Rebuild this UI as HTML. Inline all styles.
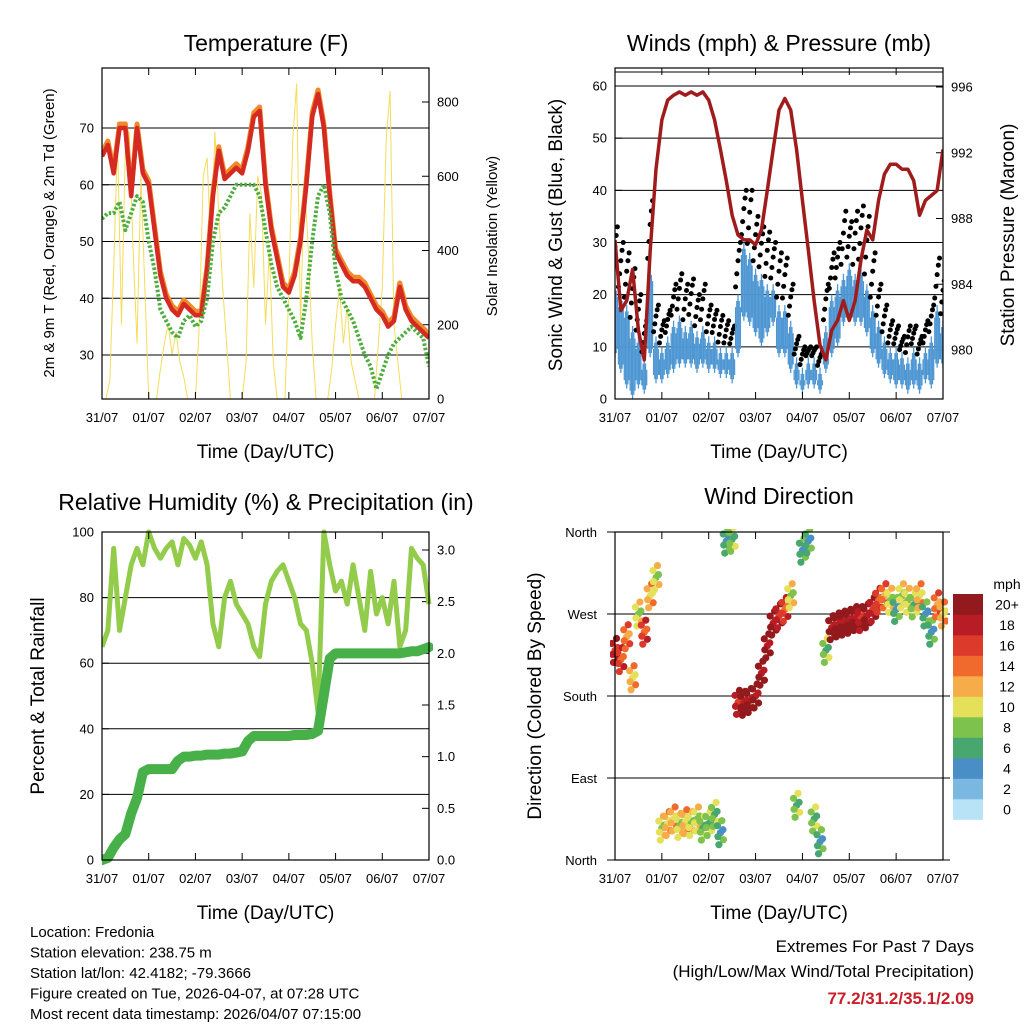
<!DOCTYPE html>
<html><head><meta charset="utf-8"><style>
html,body{margin:0;padding:0;background:#fff;}
svg{display:block;font-family:"Liberation Sans",Arial,sans-serif;}
</style></head><body>
<svg id="chart" width="1024" height="1024" viewBox="0 0 1024 1024"></svg>
<script>
// ---------- DATA (3-hour steps, 57 points over 7 days) ----------
const dayLabels = ["31/07","01/07","02/07","03/07","04/07","05/07","06/07","07/07"];
const tempT = [65,67,62,70,70,58,70,62,60,52,44,40,38,37,39,38,37,37,45,58,66,61,62,63,62,66,72,73,60,52,47,42,41,44,50,60,72,76,70,58,48,46,44,43,43,42,40,38,37,35,36,42,38,36,35,34,33];
const tempTd = [54,55,55,57,52,55,58,57,50,45,38,36,34,33,36,37,35,36,40,50,55,56,58,60,60,60,60,58,52,46,42,40,38,36,33,40,50,58,60,55,45,40,38,36,33,30,28,24,27,30,32,33,34,35,34,33,28];
// solar at 2-hour steps (85 points)
const solar = [0,0,50,350,700,200,680,720,400,150,600,300,0,0,0,80,150,200,120,180,100,60,0,0,0,200,600,650,400,720,500,300,150,0,0,0,0,100,500,300,600,550,200,400,100,0,0,0,300,700,850,200,600,400,150,0,0,0,0,80,200,300,150,250,100,50,0,0,0,0,0,150,300,700,830,200,100,0,0,0,0,0,0,0,0];
const pressure = [986.7,982.4,983,984.9,981.2,979.4,986,991,994,995.2,995.5,995.7,995.5,995.7,995.5,995.7,995.2,994,992.2,990.3,988.2,987,986.7,986.7,986.4,987.3,989.7,992.2,994.6,995.3,994.6,992.2,989.1,986.1,983,980.3,979.4,981.2,981.8,983,981.8,983,985.5,987.3,986.7,989.1,990.7,991.3,991.3,991,991,990.3,988.2,989.1,989.4,989.7,992.2];
const windHigh = [22,20,18,14,12,8,25,12,10,12,15,16,14,15,13,14,12,12,10,10,10,20,30,28,25,24,22,22,18,18,15,8,6,8,8,6,14,20,22,24,26,24,25,22,18,15,12,10,10,9,8,10,8,10,12,18,15];
const windLow = [8,5,2,0,2,1,8,3,3,4,5,6,6,6,5,6,5,5,4,4,3,8,15,14,12,10,12,14,8,8,5,2,1,2,2,1,5,8,10,14,15,14,14,12,8,6,4,3,2,2,1,2,1,3,2,6,6];
const gust = [33,30,28,25,20,15,38,18,15,17,22,24,22,23,20,22,18,17,16,15,14,30,40,40,35,33,32,30,28,27,22,12,10,10,10,9,22,28,30,36,34,36,37,35,28,22,18,15,14,12,14,14,12,15,18,27,24];
const rh = [65,70,95,70,80,90,95,90,100,95,92,95,97,90,98,96,92,97,90,72,65,80,85,78,75,72,65,62,78,85,88,90,85,80,72,70,60,45,100,90,82,85,78,90,80,70,88,75,80,72,85,65,70,95,92,90,78];
const precip = [0,0.02,0.12,0.2,0.25,0.45,0.6,0.85,0.88,0.88,0.88,0.88,0.88,0.96,1.0,1.0,1.01,1.01,1.02,1.02,1.02,1.03,1.03,1.04,1.05,1.15,1.2,1.2,1.2,1.2,1.2,1.2,1.2,1.21,1.21,1.21,1.22,1.25,1.6,1.95,2.0,2.0,2.0,2.0,2.0,2.0,2.0,2.0,2.0,2.0,2.0,2.0,2.01,2.02,2.02,2.04,2.06];
const windDir = [230,220,245,200,270,250,290,310,35,40,45,38,42,40,45,35,40,50,30,350,352,173,172,175,180,205,235,260,268,275,290,60,340,350,45,20,230,255,258,260,262,265,265,268,275,285,290,285,275,290,285,280,290,270,250,280,270];
const windSpd = [17,16,14,12,10,16,12,10,10,11,12,10,11,9,10,8,7,8,6,6,8,18,19,19,20,20,20,19,18,16,10,7,5,6,7,5,8,20,21,21,20,20,18,19,18,16,14,10,6,10,9,8,12,6,5,14,12];
const speedBins = ["0","2","4","6","8","10","12","14","16","18","20+"];
const speedColors = ["#b8e3f7","#7ab8e2","#4a8ec6","#48a76f","#7cc24c","#e5e05a","#f6ac48","#ef6a2c","#dc3a2a","#b81c24","#931a1c"];
const tempTicks = [30,40,50,60,70];
const solarTicks = [0,200,400,600,800];
const windTicks = [0,10,20,30,40,50,60];
const presTicks = [980,984,988,992,996];
const rhTicks = [0,20,40,60,80,100];
const rainTicks = ["0.0","0.5","1.0","1.5","2.0","2.5","3.0"];
const dirLabels = ["North","East","South","West","North"];

const NS="http://www.w3.org/2000/svg";
const svg=document.getElementById('chart');
function mk(tag,attrs,parent,text){const e=document.createElementNS(NS,tag);for(const k in attrs)e.setAttribute(k,attrs[k]);if(text!==undefined)e.textContent=text;(parent||svg).appendChild(e);return e;}
function lin(d0,d1,r0,r1){return v=>r0+(v-d0)*(r1-r0)/(d1-d0);}

function panel(name){
  const g=mk('g',{});
  
  
  return g;
}
function frame(g,x0,x1,y0,y1){
  const r=mk('rect',{x:x0,y:y0,width:x1-x0,height:y1-y0,fill:'none',stroke:'#000','stroke-width':1.2},g);
  
  
}
function xAxis(g,x0,x1,y0,y1){
  const xs=lin(0,7,x0,x1);
  dayLabels.forEach((l,i)=>{
    const x=xs(i);
    mk('line',{x1:x,x2:x,y1:y1,y2:y1-7,stroke:'#000'},g);
    mk('line',{x1:x,x2:x,y1:y0,y2:y0+7,stroke:'#000'},g);
    const t=mk('text',{x:x,y:y1+23,'font-size':13,'text-anchor':'middle'},g,l);
    
    
  });
  const t=mk('text',{x:(x0+x1)/2,y:y1+59,'font-size':19,'text-anchor':'middle'},g,'Time (Day/UTC)');
  
  
}
function yTicks(g,ticks,scale,x0,x1,side,labels,grid,gx0,gx1){
  ticks.forEach((v,i)=>{
    const y=scale(v);
    if(grid) mk('line',{x1:gx0,x2:gx1,y1:y,y2:y,stroke:'#000','stroke-width':1},g);
    if(side==='l'){mk('line',{x1:x0,x2:x0+7,y1:y,y2:y,stroke:'#000'},g);}
    else {mk('line',{x1:x1,x2:x1-7,y1:y,y2:y,stroke:'#000'},g);}
    const t=mk('text',{x:side==='l'?x0-8:x1+8,y:y+4.5,'font-size':13,'text-anchor':side==='l'?'end':'start'},g,labels?labels[i]:v);
    
    
  });
}
function vTitle(g,x,y,size,txt,name){
  const t=mk('text',{x:x,y:y,'font-size':size,'text-anchor':'middle',transform:`rotate(-90 ${x} ${y})`},g,txt);
  
  
}
function title(g,x,y,txt){
  const t=mk('text',{x:x,y:y,'font-size':23,'text-anchor':'middle'},g,txt);
  
  
}
function pts(arr,xs,ys,n){return arr.map((v,i)=>xs(i*168/(n-1))+','+ys(v)).join(' ');}

// ---------- Panel 1: Temperature ----------
{
  const X0=102,X1=429,Y0=68,Y1=399;
  const g=panel('temperature-panel');
  const xs=lin(0,168,X0,X1);
  const ys=lin(30,70,355,128);
  const ss=lin(0,800,399,102);
  const cp=mk('clipPath',{id:'c1'},g);mk('rect',{x:X0,y:Y0,width:X1-X0,height:Y1-Y0},cp);
  yTicks(g,tempTicks,ys,X0,X1,'l',null,true,X0,X1);
  yTicks(g,solarTicks,ss,X0,X1,'r',null,false);
  const d=mk('g',{'clip-path':'url(#c1)'},g);
  const s=mk('polyline',{points:pts(solar,xs,ss,solar.length),fill:'none',stroke:'#f5dc5a','stroke-width':1},d);
  
  
  const o=mk('polyline',{points:pts(tempT.map(v=>v+0.7),xs,ys,tempT.length),fill:'none',stroke:'#f08a2a','stroke-width':5,'stroke-linejoin':'round'},d);
  
  
  const r=mk('polyline',{points:pts(tempT,xs,ys,tempT.length),fill:'none',stroke:'#d42a22','stroke-width':4.5,'stroke-linejoin':'round'},d);
  
  
  const gr=mk('polyline',{points:pts(tempTd,xs,ys,tempTd.length),fill:'none',stroke:'#4cae3c','stroke-width':4,'stroke-dasharray':'2.5 2','stroke-linejoin':'round'},d);
  
  
  frame(g,X0,X1,Y0,Y1);xAxis(g,X0,X1,Y0,Y1);
  title(g,266,51,'Temperature (F)');
  vTitle(g,54,233,15,'2m & 9m T (Red, Orange) & 2m Td (Green)','y-axis-title');
  vTitle(g,497,236,15,'Solar Insolation (Yellow)','y2-axis-title');
}
// ---------- Panel 2: Winds & Pressure ----------
{
  const X0=615,X1=943,Y0=68,Y1=399;
  const g=panel('winds-pressure-panel');
  const xs=lin(0,168,X0,X1);
  const ys=lin(0,60,399,86);
  const ps=lin(980,996,350,87);
  mk('line',{x1:X0,x2:X1,y1:72,y2:72,stroke:'#000'},g);
  yTicks(g,windTicks,ys,X0,X1,'l',null,true,X0,X1);
  yTicks(g,presTicks,ps,X0,X1,'r',null,false);
  const cp=mk('clipPath',{id:'c2'},g);mk('rect',{x:X0,y:Y0,width:X1-X0,height:Y1-Y0},cp);
  const d=mk('g',{'clip-path':'url(#c2)'},g);
  const n=windHigh.length;
  for(let i=0;i<n;i++){
    const x=xs(i*168/(n-1));
    for(let k=-2;k<=2;k++){
      const lo=windLow[i]+Math.abs(k)*0.8, hi=windHigh[i]-Math.abs(k)*1.2;
      const b=mk('line',{x1:x+k*1.2,x2:x+k*1.2,y1:ys(lo),y2:ys(hi),stroke:'#4f97d3','stroke-width':1.3},d);
      
      
    }
    [0.15,0.4,0.65,0.85,1].forEach((f,j)=>{
      const v=windHigh[i]+(gust[i]-windHigh[i])*f;
      const c=mk('circle',{cx:x+(j-2)*1.2,cy:ys(v),r:2.5,fill:'#000'},d);
      
      
    });
  }
  const pl=mk('polyline',{points:pts(pressure,xs,ps,n),fill:'none',stroke:'#a01c1c','stroke-width':3.5,'stroke-linejoin':'round'},d);
  
  
  frame(g,X0,X1,Y0,Y1);xAxis(g,X0,X1,Y0,Y1);
  title(g,779,51,'Winds (mph) & Pressure (mb)');
  vTitle(g,562,235,19,'Sonic Wind & Gust (Blue, Black)','y-axis-title');
  vTitle(g,1014,235,19,'Station Pressure (Maroon)','y2-axis-title');
}
// ---------- Panel 3: RH & Precip ----------
{
  const X0=102,X1=429,Y0=532,Y1=860;
  const g=panel('humidity-precip-panel');
  const xs=lin(0,168,X0,X1);
  const ys=lin(0,100,860,532);
  const rs=lin(0,3,860,550);
  yTicks(g,rhTicks,ys,X0,X1,'l',null,false);
  [20,40,60,80].forEach(v=>mk('line',{x1:X0,x2:X1,y1:ys(v),y2:ys(v),stroke:'#000'},g));
  yTicks(g,rainTicks.map(Number),rs,X0,X1,'r',rainTicks,false);
  const cp=mk('clipPath',{id:'c3'},g);mk('rect',{x:X0,y:Y0-3,width:X1-X0+4,height:Y1-Y0+8},cp);
  const d=mk('g',{'clip-path':'url(#c3)'},g);
  const a=mk('polyline',{points:pts(rh,xs,ys,rh.length),fill:'none',stroke:'#93cb4a','stroke-width':5,'stroke-linejoin':'round'},d);
  
  
  const p=mk('polyline',{points:pts(precip,xs,rs,precip.length),fill:'none',stroke:'#48b048','stroke-width':10,'stroke-linejoin':'round','stroke-linecap':'round'},d);
  
  
  frame(g,X0,X1,Y0,Y1);xAxis(g,X0,X1,Y0,Y1);
  title(g,266,510,'Relative Humidity (%) & Precipitation (in)');
  vTitle(g,44,696,19,'Percent & Total Rainfall','y-axis-title');
}
// ---------- Panel 4: Wind Direction ----------
{
  const X0=615,X1=943,Y0=532,Y1=860;
  const g=panel('wind-direction-panel');
  const xs=lin(0,168,X0,X1);
  const ds=lin(0,360,860,532);
  [0,90,180,270,360].forEach(v=>mk('line',{x1:607,x2:950,y1:ds(v),y2:ds(v),stroke:'#000'},g));
  dirLabels.forEach((l,i)=>{
    const t=mk('text',{x:X0-18,y:ds(i*90)+5,'font-size':13,'text-anchor':'end'},g,l);
    
    
  });
  const cp=mk('clipPath',{id:'c4'},g);mk('rect',{x:X0-5,y:Y0-3,width:X1-X0+10,height:Y1-Y0+6},cp);
  const d=mk('g',{'clip-path':'url(#c4)'},g);
  const n=windDir.length;
  const offs=[[-3,-7],[0,0],[3,7],[-1.5,12],[1.5,-12],[2.5,-3],[-2.5,4]];
  for(let i=0;i<n;i++){
    const x=xs(i*168/(n-1));
    const ci=Math.min(10,Math.max(0,Math.round(windSpd[i]/2)));
    offs.forEach((o,j)=>{
      const cj=Math.min(10,Math.max(0,ci+(j%3===0?0:(j%2?-1:1))));
      const c=mk('circle',{cx:x+o[0],cy:ds(windDir[i])+o[1],r:3.6,fill:speedColors[cj]},d);
      
      
    });
  }
  frame(g,X0,X1,Y0,Y1);xAxis(g,X0,X1,Y0,Y1);
  title(g,779,504,'Wind Direction');
  vTitle(g,541,696,19,'Direction (Colored By Speed)','y-axis-title');
  const lt=mk('text',{x:1007,y:589,'font-size':14,'text-anchor':'middle'},g,'mph');
  
  
  const h=20.5;
  for(let i=0;i<11;i++){
    const y=594+(10-i)*h;
    const r=mk('rect',{x:953,y:y,width:30,height:h+0.3,fill:speedColors[i]},g);
    
    
    const t=mk('text',{x:1007,y:y+h/2+5,'font-size':14,'text-anchor':'middle'},g,speedBins[i]);
    
    
  }
}
// ---------- Footer text ----------
{
  const lines=["Location: Fredonia","Station elevation: 238.75 m","Station lat/lon: 42.4182; -79.3666","Figure created on Tue, 2026-04-07, at 07:28 UTC","Most recent data timestamp: 2026/04/07 07:15:00"];
  lines.forEach((l,i)=>{
    const t=mk('text',{x:30,y:937+i*20.5,'font-size':15},svg,l);
    
    
  });
  const a=mk('text',{x:974,y:952,'font-size':17,'text-anchor':'end'},svg,'Extremes For Past 7 Days');
  
  
  const b=mk('text',{x:974,y:977,'font-size':17,'text-anchor':'end'},svg,'(High/Low/Max Wind/Total Precipitation)');
  
  
  const c=mk('text',{x:974,y:1004,'font-size':17,'font-weight':'bold','text-anchor':'end',fill:'#c8202a'},svg,'77.2/31.2/35.1/2.09');
  
  
}
</script>
</body></html>
